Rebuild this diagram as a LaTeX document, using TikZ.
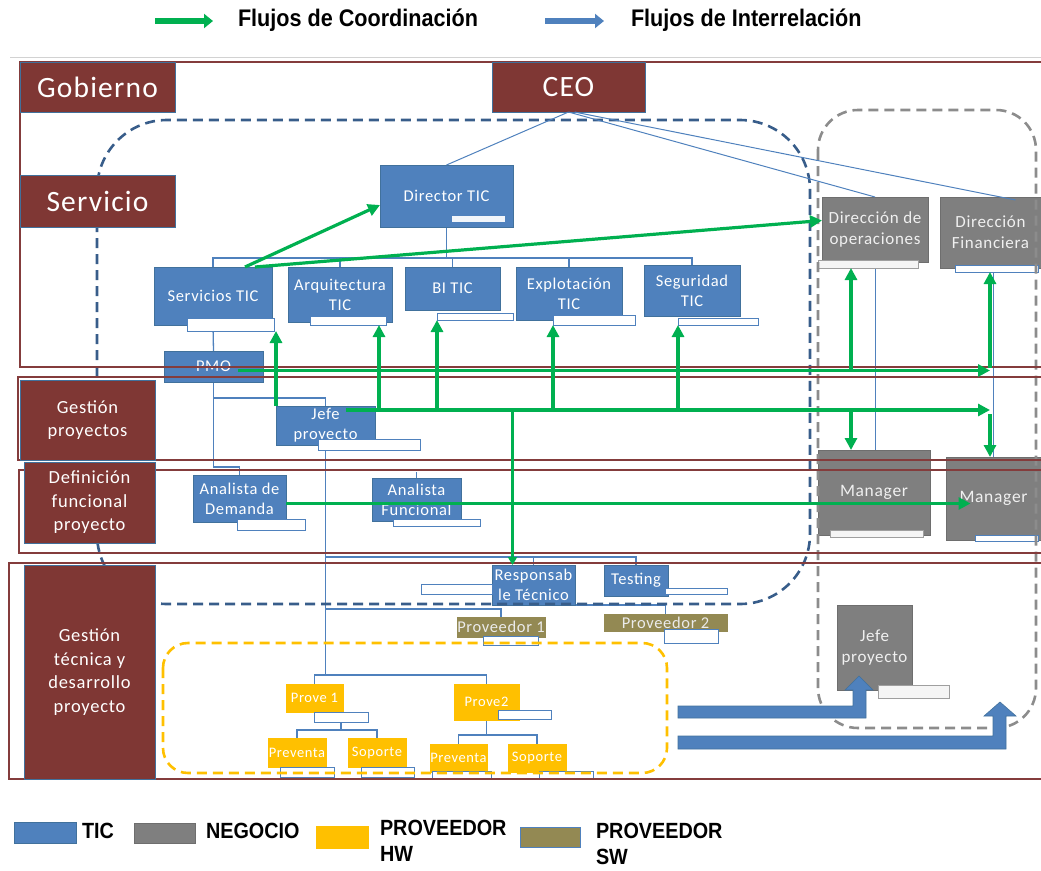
\documentclass[tikz,border=0pt]{standalone}
\usepackage{fontspec}
\setmainfont{Carlito}
\newfontfamily\carl[LetterSpace=4]{Carlito}
\newfontfamily\legfont[FakeStretch=0.9]{Liberation Sans}
\usetikzlibrary{arrows.meta}
\pgfdeclarelayer{bg}
\pgfdeclarelayer{fg}
\pgfsetlayers{bg,main,fg}

\definecolor{ticblue}{HTML}{4F81BD}
\definecolor{ticedge}{HTML}{41719C}
\definecolor{negfill}{HTML}{7F7F7F}
\definecolor{negedge}{HTML}{6E6E6E}
\definecolor{hwfill}{HTML}{FFC000}
\definecolor{swfill}{HTML}{938953}
\definecolor{grn}{HTML}{00B050}
\definecolor{labred}{HTML}{7F3734}
\definecolor{bandred}{HTML}{843C3C}
\definecolor{dashblue}{HTML}{385D8A}
\definecolor{dashgrey}{HTML}{8C8C8C}

% box from its corners: name, style, x1, y1, x2, y2, text
\newcommand\bx[7]{\node[#2, minimum width={(#5)-(#3)}, minimum height={(#6)-(#4)}] (#1) at ({((#3)+(#5))/2},{((#4)+(#6))/2}) {#7};}

\tikzset{
  basebox/.style={inner sep=0pt, outer sep=0pt, align=center, text=white, line width=0.6pt},
  ticbox/.style={basebox, fill=ticblue, draw=ticedge, font=\carl\fontsize{16.5}{20}\selectfont},
  negbox/.style={basebox, fill=negfill, draw=negedge, text=white!94!black, font=\carl\fontsize{17}{21}\selectfont},
  hwbox/.style={basebox, fill=hwfill, draw=hwfill, font=\carl\fontsize{14.5}{16}\selectfont},
  swbox/.style={basebox, fill=swfill, draw=swfill, text=white!92!black, font=\carl\fontsize{16.5}{18}\selectfont},
  tabbox/.style={basebox, fill=white, draw=ticblue, line width=1pt},
  tabgrey/.style={basebox, fill=gray!8, draw=gray!75, line width=1pt},
  tabin/.style={basebox, fill=white!92!ticblue, draw=none},
  labbox/.style={basebox, fill=labred, draw=ticedge, line width=0.8pt, font=\carl\fontsize{18.5}{23.5}\selectfont},
  biglab/.style={labbox, font=\carl\fontsize{29.5}{32}\selectfont},
  tline/.style={draw=ticblue, line width=1.3pt},
  ceoline/.style={draw=ticblue, line width=1pt},
  garrow/.style={draw=grn, line width=3.2pt, -{Triangle[length=12pt,width=12pt]}},
  band/.style={draw=bandred, line width=2.2pt},
  region/.style={line width=2.6pt, dash pattern=on 10pt off 6pt},
  legtxt/.style={inner sep=0pt, outer sep=0pt, text=black, font=\legfont\bfseries\fontsize{22}{26}\selectfont, align=left},
  toplegtxt/.style={legtxt, font=\legfont\bfseries\fontsize{24}{26}\selectfont},
  iarrow/.style={fill=ticblue, draw=ticedge, line width=0.6pt},
}

\begin{document}
\begin{tikzpicture}[x=1pt,y=-1pt]
\useasboundingbox (0,0) rectangle (1041,870);

% ---------- top legend ----------
\coordinate (lgA1) at (155,21);
\coordinate (lgA2) at (213,21);
\coordinate (lgB1) at (545,21);
\coordinate (lgB2) at (604,21);
\draw[grn, line width=6.5pt, -{Triangle[length=9pt,width=14pt]}] (lgA1) -- (lgA2);
\draw[ticblue, line width=6.5pt, -{Triangle[length=9pt,width=14pt]}] (lgB1) -- (lgB2);
\node[toplegtxt, anchor=base west] (lgA) at (238,27) {Flujos de Coordinación};
\node[toplegtxt, anchor=base west] (lgB) at (631,27) {Flujos de Interrelación};
\draw[gray!35, line width=1pt] (10,57) -- (1041,57);

% ---------- TIC units ----------
\bx{dir}{ticbox}{380}{165}{513}{227}{Director TIC}
\bx{tdir}{tabin}{452}{216}{505}{222}{}
\bx{serv}{ticbox}{154}{267}{272}{325}{Servicios TIC}
\bx{tserv}{tabbox}{187}{318}{274}{331}{}
\bx{arq}{ticbox}{288}{267}{392}{322}{Arquitectura\\TIC}
\bx{tarq}{tabbox}{310}{316}{386}{325}{}
\bx{bi}{ticbox}{405}{267}{500}{310}{BI TIC}
\bx{tbi}{tabbox}{437}{313}{513}{320}{}
\bx{exp}{ticbox}{516}{267}{622}{320}{Explotación\\TIC}
\bx{texp}{tabbox}{553}{315}{635}{325}{}
\bx{seg}{ticbox}{644}{265}{740}{316}{Seguridad\\TIC}
\bx{tseg}{tabbox}{678}{318}{758}{325}{}
\bx{pmo}{ticbox}{164}{351}{263}{382}{PMO}
\bx{jefe}{ticbox}{276}{406}{375}{445}{Jefe\\proyecto}
\bx{tjefe}{tabbox}{318}{439}{420}{450}{}
\bx{anD}{ticbox}{193}{475}{286}{522}{Analista de\\Demanda}
\bx{tanD}{tabbox}{237}{519}{305}{530}{}
\bx{anF}{ticbox}{372}{478}{461}{521}{Analista\\Funcional}
\bx{tanF}{tabbox}{393}{519}{480}{526}{}
\bx{resp}{ticbox}{492}{565}{575}{605}{Responsab\\le Técnico}
\bx{tresp}{tabbox}{421}{584}{492}{594}{}
\bx{test}{ticbox}{604}{565}{668}{596}{Testing}
\bx{ttest}{tabbox}{665}{588}{727}{594}{}

% ---------- business units ----------
\bx{dop}{negbox}{822}{197}{928}{262}{Dirección de\\operaciones}
\bx{tdop}{tabgrey}{818}{260}{918}{268}{}
\bx{dfin}{negbox}{940}{197}{1041}{268}{Dirección\\Financiera}
\bx{tdfin}{tabbox}{955}{265}{1038}{272}{}
\bx{man1}{negbox, font=\carl\fontsize{17.5}{20}\selectfont}{818}{450}{930}{535}{Manager}
\bx{tman1}{tabgrey}{830}{530}{923}{537}{}
\bx{man2}{negbox, font=\carl\fontsize{17.5}{20}\selectfont}{946}{457}{1041}{540}{Manager}
\bx{tman2}{tabbox}{975}{535}{1038}{541}{}
\bx{jefeN}{negbox}{837}{605}{912}{690}{Jefe\\proyecto}
\bx{tjefeN}{tabgrey}{878}{685}{949}{698}{}

% ---------- suppliers ----------
\bx{pv1}{swbox}{457}{617}{545}{637}{Proveedor 1}
\bx{tpv1}{tabbox}{483}{636}{538}{645}{}
\bx{pv2}{swbox}{604}{614}{727}{631}{Proveedor 2}
\bx{tpv2}{tabbox}{664}{629}{718}{643}{}
\bx{p1}{hwbox}{286}{684}{343}{712}{Prove 1}
\bx{tp1}{tabbox}{314}{712}{368}{722}{}
\bx{p2}{hwbox}{454}{684}{519}{720}{Prove2}
\bx{tp2}{tabbox}{498}{710}{551}{719}{}
\bx{pre1}{hwbox}{268}{738}{326}{767}{Preventa}
\bx{tpre1}{tabbox}{280}{767}{334}{777}{}
\bx{sop1}{hwbox}{348}{738}{406}{767}{Soporte}
\bx{tsop1}{tabbox}{361}{767}{414}{777}{}
\bx{pre2}{hwbox}{430}{744}{487}{772}{Preventa}
\bx{tpre2}{tabbox}{432}{771}{491}{779}{}
\bx{sop2}{hwbox}{508}{744}{566}{772}{Soporte}
\bx{tsop2}{tabbox}{539}{771}{593}{779}{}

% ---------- reporting lines ----------
\begin{pgfonlayer}{bg}
  \coordinate (busA) at (0,258);
  \coordinate (busB) at (0,398);
  \coordinate (busC) at (0,467);
  \coordinate (busR) at (0,557);
  \coordinate (busS) at (0,609);
  \coordinate (busP) at (0,675);
  \coordinate (busU) at (0,730);
  \coordinate (busV) at (0,735);
  \draw[tline] (dir.south) -- (dir.south |- busA);
  \draw[tline] (serv.north) |- (seg.north |- busA) -- (seg.north);
  \foreach \n in {arq,bi,exp} \draw[tline] (\n.north) -- (\n.north |- busA);
  \draw[tline] (serv.south) -- (pmo.north);
  \draw[tline] (pmo.south) -- (pmo.south |- busC) -| (anD.north);
  \draw[tline] (pmo.south |- busB) -| (jefe.north);
  \draw[tline] (jefe.south) -- (jefe.south |- busP);
  \draw[tline] (p1.north) |- (p2.north |- busP) -- (p2.north);
  \draw[tline] (jefe.south |- busR) -| (test.north);
  \draw[tline] (resp.north) -- (resp.north |- busR);
  \draw[tline] (jefe.south |- busS) -| (pv1.north);
  \draw[tline] (resp.south east) -| (pv2.north);
  \draw[tline] (anF.north) -- ++(0,-6);
  \draw[tline] (tp1.south) -- (tp1.south |- busU);
  \draw[tline] (pre1.north) |- (sop1.north |- busU) -- (sop1.north);
  \draw[tline] (p2.south) -- (p2.south |- busV);
  \draw[tline] (pre2.north) |- (sop2.north |- busV) -- (sop2.north);
  \draw[ceoline] (dop.south) -- (dop.south |- man1.north);
  \draw[ceoline] (man2.north) -- (man2.north |- dfin.south);
\end{pgfonlayer}

\begin{pgfonlayer}{fg}
  % areas
  \draw[region, draw=dashblue, rounded corners=70pt] (97,120) rectangle (810,604);
  \draw[region, draw=dashgrey, rounded corners=40pt] (818,110) rectangle (1036,728);
  \draw[region, draw=hwfill, rounded corners=25pt] (163,643) rectangle (667,773);

  % layers of the organisation
  \draw[band] (20,62) rectangle (1050,367);
  \draw[band] (18,377) rectangle (1050,460);
  \draw[band] (19,470) rectangle (1050,553);
  \draw[band] (9,563) rectangle (1050,779);
  \bx{gob}{biglab}{20}{62}{175}{112}{Gobierno}
  \bx{ceo}{biglab}{492}{62}{645}{112}{CEO}
  \bx{svc}{biglab}{20}{175}{175}{227}{Servicio}
  \bx{gpr}{labbox}{20}{380}{155}{460}{Gestión\\proyectos}
  \bx{dfp}{labbox}{24}{462}{155}{543}{Definición\\funcional\\proyecto}
  \bx{gtd}{labbox}{24}{565}{155}{779}{Gestión\\técnica y\\desarrollo\\proyecto}

  % lines from the CEO
  \draw[ceoline] (ceo.south) -- (dir.north);
  \draw[ceoline] (ceo.south) -- (dop.north);
  \draw[ceoline] ([xshift=6pt]ceo.south) -- ([xshift=25pt,yshift=-3pt]dfin.north);

  % coordination flows
  \coordinate (hubA) at (990,370);
  \coordinate (hubB) at (990,410);
  \coordinate (gP) at ([xshift=24pt,yshift=-4pt]pmo.center);
  \coordinate (gJ) at ([xshift=20pt,yshift=-4pt]jefe.north);
  \coordinate (gA) at ([xshift=31pt]tarq.south);
  \coordinate (gD) at ([xshift=-17pt]tdop.south);
  \coordinate (gR) at ([xshift=-21pt]resp.north);
  \coordinate (gM) at ([xshift=-23pt,yshift=-5pt]man2.center);
  \draw[garrow] ([xshift=32pt]serv.north) -- ([yshift=-9pt]dir.west);
  \draw[garrow] ([xshift=42pt]serv.north) -- ([yshift=9pt]dop.west);
  \draw[garrow] (gP) -- (gP -| hubA);
  \draw[garrow] (gJ) -- (gJ -| hubB);
  \draw[garrow] (jefe.north west) -- (jefe.north west |- tserv.south);
  \draw[garrow] (gA |- hubB) -- (gA);
  \draw[garrow] (tbi.south west |- hubB) -- (tbi.south west);
  \draw[garrow] (texp.south west |- hubB) -- (texp.south west);
  \draw[garrow] (tseg.south west |- hubB) -- (tseg.south west);
  \draw[garrow] (gD |- hubA) -- (gD);
  \draw[garrow] (gD |- hubB) -- (gD |- man1.north);
  \draw[garrow] ([yshift=2pt]hubA) -- (hubA |- tdfin.south);
  \draw[garrow] ([yshift=-4pt]hubB) -- (hubB |- man2.north);
  \draw[garrow, line width=2.6pt, -{Triangle[length=8pt,width=9pt]}] (gR |- hubB) -- (gR);
  \draw[garrow] ([yshift=-5pt]anD.east) -- (gM);

  % interrelation flows
  \draw[iarrow] (678,706) -- (853,706) -- (853,690) -- (845,690) -- (859,676)
    -- (873,690) -- (866,690) -- (866,718) -- (678,718) -- cycle;
  \draw[iarrow] (678,736) -- (993,736) -- (993,716) -- (984,716) -- (1000,702)
    -- (1016,716) -- (1006,716) -- (1006,749) -- (678,749) -- cycle;
\end{pgfonlayer}

% ---------- bottom legend ----------
\bx{kTic}{ticbox}{14}{822}{76}{843}{}
\node[legtxt, anchor=north west] (kTicT) at (82,823) {TIC};
\bx{kNeg}{negbox}{134}{823}{195}{843}{}
\node[legtxt, anchor=north west] (kNegT) at (206,823) {NEGOCIO};
\bx{kHw}{hwbox}{316}{826}{368}{848}{}
\node[legtxt, anchor=north west] (kHwT) at (380,820) {PROVEEDOR\\HW};
\bx{kSw}{swbox, draw=ticblue}{520}{827}{580}{847}{}
\node[legtxt, anchor=north west] (kSwT) at (596,823) {PROVEEDOR\\SW};
\end{tikzpicture}
\end{document}
